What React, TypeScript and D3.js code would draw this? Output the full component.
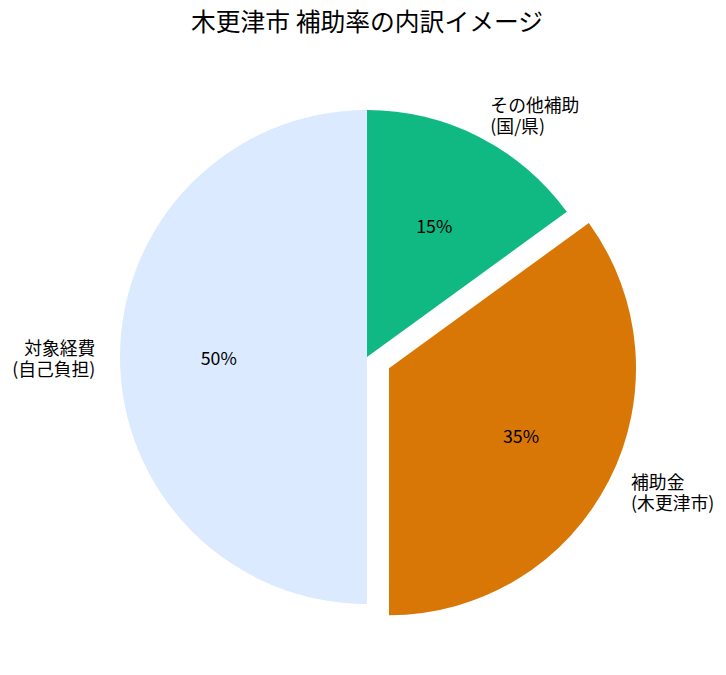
import React from "react";
import * as d3 from "d3";

const categories = ["その他補助\n(国/県)", "補助金\n(木更津市)", "対象経費\n(自己負担)"];
const values = [15, 35, 50];
const colors = ["#10b981", "#d97706", "#dbeafe"];
const explode = [0, 0.1, 0];
const title = "木更津市 補助率の内訳イメージ";

const W = 726;
const H = 675;
const cx = 367;
const cy = 357;
const R = 247;
const FONT = "'Noto Sans CJK JP', 'Noto Sans', sans-serif";

export default function App() {
  const pie = d3.pie<number>().sort(null).startAngle(0).endAngle(2 * Math.PI);
  const arcs = pie(values);
  const arcGen = d3.arc<d3.PieArcDatum<number>>().innerRadius(0).outerRadius(R);
  const lineH = 21;

  return (
    <svg width={W} height={H} style={{ position: "absolute", left: 0, top: 0, background: "#fff" }}>
      <text x={367} y={20} textAnchor="middle" dominantBaseline="central" fontFamily={FONT} fontSize={24.8} fill="#000">
        {title}
      </text>
      {arcs.map((a, i) => {
        const mid = (a.startAngle + a.endAngle) / 2;
        const dx = Math.sin(mid);
        const dy = -Math.cos(mid);
        const ox = dx * explode[i] * R;
        const oy = dy * explode[i] * R;
        const lx = dx * R * 1.1;
        const ly = dy * R * 1.1;
        const px = dx * R * 0.6;
        const py = dy * R * 0.6;
        const lines = categories[i].split("\n");
        const anchor = dx > 0.01 ? "start" : dx < -0.01 ? "end" : "middle";
        return (
          <g key={i} transform={`translate(${cx + ox},${cy + oy})`}>
            <path d={arcGen(a) || ""} fill={colors[i]} />
            <text x={px} y={py} textAnchor="middle" dominantBaseline="central" fontFamily={FONT} fontSize={17.8} fill="#000">
              {`${values[i]}%`}
            </text>
            <text textAnchor={anchor} fontFamily={FONT} fontSize={17.8} fill="#000">
              {lines.map((l, j) => (
                <tspan key={j} x={lx} y={ly + (j - (lines.length - 1) / 2) * lineH} dominantBaseline="central">
                  {l}
                </tspan>
              ))}
            </text>
          </g>
        );
      })}
    </svg>
  );
}
